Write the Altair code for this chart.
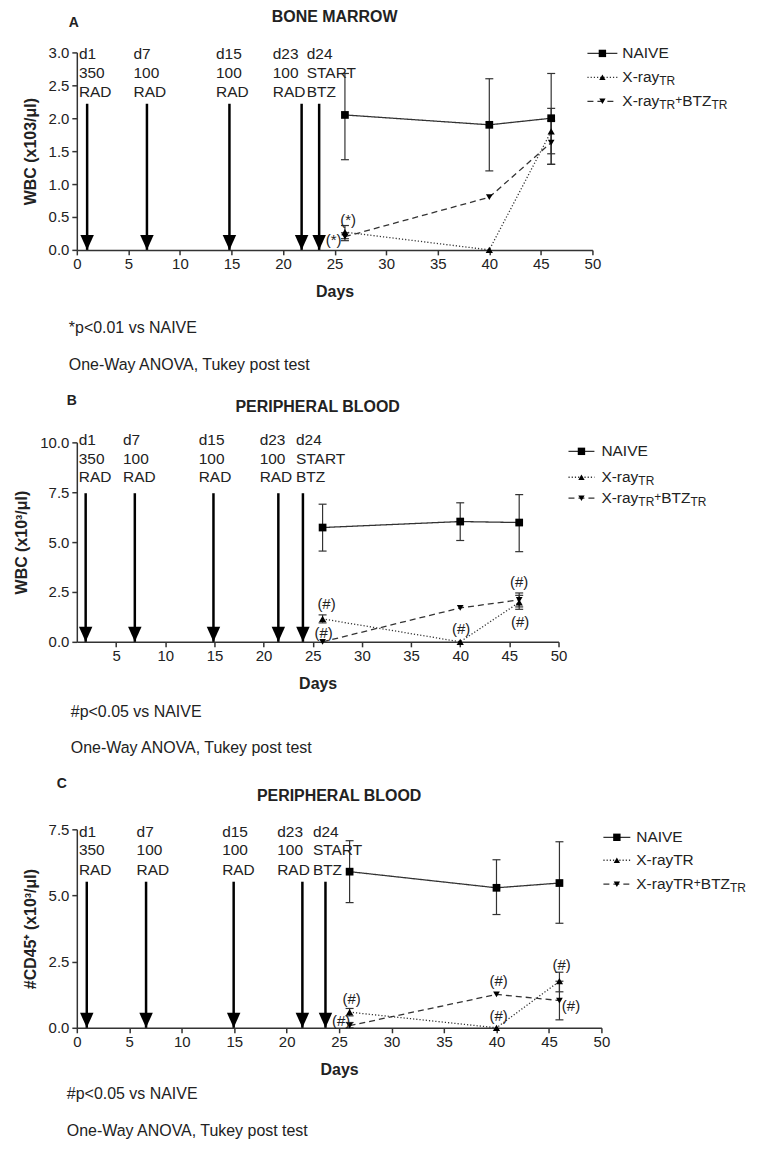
import altair as alt
import pandas as pd

FONT = "Liberation Sans"
INK = "#222222"
LINE = "#333333"

SERIES = ["NAIVE", "X-ray", "X-ray+BTZ"]
DAYS = [26, 40, 46]
DOSE_TEXT = [["d1", "350", "RAD"], ["d7", "100", "RAD"], ["d15", "100", "RAD"],
             ["d23", "100", "RAD"], ["d24", "START", "BTZ"]]

# ---------------- Panel A : bone marrow ----------------
A_NAIVE = [2.05, 1.90, 2.00]
A_NAIVE_LO = [1.37, 1.20, 1.30]
A_NAIVE_HI = [2.68, 2.60, 2.68]
A_XRAY = [0.27, 0.00, 1.80]
A_XRAY_LO = [0.17, 0.00, 1.46]
A_XRAY_HI = [0.37, 0.00, 2.15]
A_BTZ = [0.20, 0.80, 1.63]
A_BTZ_LO = [0.14, 0.80, 1.30]
A_BTZ_HI = [0.26, 0.80, 1.96]
A_ARROW_DAY = [1.0, 6.8, 14.8, 21.8, 23.5]
A_TEXT_DAY = [0.2, 5.5, 13.5, 19.0, 22.3]
A_TEXT_Y = [2.97, 2.69, 2.40]
A_ARROW_TOP = 2.22
A_SIG_DAY = [26.3, 24.9]
A_SIG_Y = [0.45, 0.15]
A_SIG = ["(*)", "(*)"]
A_X_TICKS = [0, 5, 10, 15, 20, 25, 30, 35, 40, 45, 50]
A_Y_TICKS = [0.0, 0.5, 1.0, 1.5, 2.0, 2.5, 3.0]

# ---------------- Panel B : peripheral blood WBC ----------------
B_NAIVE = [5.73, 6.03, 5.98]
B_NAIVE_LO = [4.55, 5.08, 4.52]
B_NAIVE_HI = [6.90, 6.97, 7.38]
B_XRAY = [1.15, 0.00, 1.98]
B_XRAY_LO = [0.95, 0.00, 1.63]
B_XRAY_HI = [1.35, 0.00, 2.33]
B_BTZ = [0.00, 1.70, 2.10]
B_BTZ_LO = [0.00, 1.70, 1.75]
B_BTZ_HI = [0.00, 1.70, 2.45]
B_ARROW_DAY = [1.9, 6.9, 14.9, 21.5, 24.0]
B_TEXT_DAY = [1.2, 5.7, 13.4, 19.6, 23.3]
B_TEXT_Y = [10.13, 9.18, 8.27]
B_ARROW_TOP = 7.45
B_SIG_DAY = [26.4, 26.1, 40.1, 46.0, 46.1]
B_SIG_Y = [1.88, 0.43, 0.65, 3.0, 1.0]
B_SIG = ["(#)", "(#)", "(#)", "(#)", "(#)"]
B_X_TICKS = [5, 10, 15, 20, 25, 30, 35, 40, 45, 50]
B_Y_TICKS = [0.0, 2.5, 5.0, 7.5, 10.0]

# ---------------- Panel C : peripheral blood CD45+ ----------------
C_NAIVE = [5.90, 5.29, 5.47]
C_NAIVE_LO = [4.73, 4.28, 3.95]
C_NAIVE_HI = [7.07, 6.35, 7.03]
C_XRAY = [0.59, 0.00, 1.76]
C_XRAY_LO = [0.45, 0.00, 1.36]
C_XRAY_HI = [0.73, 0.00, 2.10]
C_BTZ = [0.08, 1.26, 1.03]
C_BTZ_LO = [0.00, 1.26, 0.30]
C_BTZ_HI = [0.20, 1.26, 1.76]
C_ARROW_DAY = [0.95, 6.6, 14.95, 21.5, 23.7]
C_TEXT_DAY = [0.2, 5.7, 13.85, 19.1, 22.5]
C_TEXT_Y = [7.4, 6.7, 5.95]
C_ARROW_TOP = 5.52
C_SIG_DAY = [26.2, 25.2, 40.2, 40.2, 46.2, 47.1]
C_SIG_Y = [1.07, 0.24, 1.76, 0.43, 2.39, 0.84]
C_SIG = ["(#)", "(#)", "(#)", "(#)", "(#)", "(#)"]
C_X_TICKS = [0, 5, 10, 15, 20, 25, 30, 35, 40, 45, 50]
C_Y_TICKS = [0.0, 2.5, 5.0, 7.5]

ARIAL = {'X': .667, '-': .333, 'r': .333, 'a': .556, 'y': .5, 'T': .611, 'R': .722,
         '+': .584, 'B': .667, 'Z': .611, 'N': .722, 'A': .667, 'I': .278, 'V': .667,
         'E': .667}

DASH = {"NAIVE": [1, 0], "X-ray": [1.2, 2], "X-ray+BTZ": [6, 4]}
SHAPE = {"NAIVE": "square", "X-ray": "triangle-up", "X-ray+BTZ": "triangle-down"}
SIZE = {"NAIVE": 60, "X-ray": 45, "X-ray+BTZ": 45}
ARROW_HEAD = "M-0.9,-1L0.9,-1L0,1Z"
ONE = pd.DataFrame({"k": [0]})


def tw(s, size):
    return sum(ARIAL.get(c, 0.556) for c in s) * size


def text_at(txt, x, y, size=15.5, weight="normal", align="left", dy=0):
    return alt.Chart(ONE).mark_text(
        text=txt, align=align, baseline="middle", fontSize=size,
        fontWeight=weight, color=INK, dy=dy, font=FONT
    ).encode(x=alt.value(x), y=alt.value(y))


def build_panel(c):
    w, h = c["w"], c["h"]
    xs = alt.Scale(domain=c["xdom"], nice=False, zero=False)
    ys = alt.Scale(domain=c["ydom"], nice=False, zero=False)
    common = dict(titleFontSize=16, titleFontWeight="bold", titleColor=INK,
                  labelFontSize=15, labelColor=INK, tickSize=5, tickColor=LINE,
                  tickWidth=1.5, domainColor=LINE, domainWidth=1.5, grid=False,
                  labelFlush=False, labelOverlap=False, labelFont=FONT, titleFont=FONT)
    xax = alt.Axis(values=c["xticks"], format="d", title="Days", titlePadding=12,
                   labelPadding=2, **common)
    yax = alt.Axis(values=c["yticks"], format=".1f", title=c["ytitle"],
                   titlePadding=10, labelPadding=3, **common)

    def X(f):
        return alt.X(f, type="quantitative", scale=xs, axis=xax)

    def Y(f):
        return alt.Y(f, type="quantitative", scale=ys, axis=yax)

    rows = []
    for s, v, lo, hi in zip(SERIES, c["vals"], c["los"], c["his"]):
        for d, a, l, u in zip(DAYS, v, lo, hi):
            rows.append(dict(series=s, day=d, v=a, lo=l, hi=u))
    df = pd.DataFrame(rows)
    err = df[df["hi"] > df["lo"]]
    caps = pd.concat([err.assign(c=err["lo"]), err.assign(c=err["hi"])])

    dash_scale = alt.Scale(domain=SERIES, range=[DASH[s] for s in SERIES])
    shape_scale = alt.Scale(domain=SERIES, range=[SHAPE[s] for s in SERIES])
    size_scale = alt.Scale(domain=SERIES, range=[SIZE[s] for s in SERIES])

    lines = alt.Chart(df).mark_line(color=LINE, strokeWidth=1.3).encode(
        x=X("day"), y=Y("v"),
        strokeDash=alt.StrokeDash("series:N", scale=dash_scale, legend=None))
    bars = alt.Chart(err).mark_rule(color=LINE, strokeWidth=1.2).encode(
        x=X("day"), y=Y("lo"), y2=alt.Y2("hi"))
    capm = alt.Chart(caps).mark_point(shape="stroke", size=64, strokeWidth=1.2,
                                      color=LINE, opacity=1).encode(x=X("day"), y=Y("c"))
    pts = alt.Chart(df).mark_point(filled=True, color="black", opacity=1).encode(
        x=X("day"), y=Y("v"),
        shape=alt.Shape("series:N", scale=shape_scale, legend=None),
        size=alt.Size("series:N", scale=size_scale, legend=None))

    adf = pd.DataFrame({"day": c["arrow_day"], "top": [c["arrow_top"]] * len(c["arrow_day"]),
                        "zero": [0.0] * len(c["arrow_day"])})
    shafts = alt.Chart(adf).mark_rule(color="black", strokeWidth=2.5).encode(
        x=X("day"), y=Y("top"), y2=alt.Y2("zero"))
    heads = alt.Chart(adf).mark_point(shape=ARROW_HEAD, filled=True, color="black",
                                      size=225, yOffset=-7.5, opacity=1).encode(
        x=X("day"), y=Y("zero"))

    trows = []
    for lx, lines_txt in zip(c["text_day"], DOSE_TEXT):
        for ly, t in zip(c["text_y"], lines_txt):
            trows.append(dict(x=lx, y=ly, t=t))
    dose = alt.Chart(pd.DataFrame(trows)).mark_text(
        align="left", baseline="middle", fontSize=15.5, color=INK, font=FONT).encode(
        x=X("x"), y=Y("y"), text="t:N")

    sdf = pd.DataFrame({"x": c["sig_day"], "y": c["sig_y"], "t": c["sig"]})
    sig = alt.Chart(sdf).mark_text(align="center", baseline="middle", fontSize=15,
                                   color=INK, font=FONT).encode(
        x=X("x"), y=Y("y"), text="t:N")

    layers = [lines, bars, capm, pts, shafts, heads, dose, sig]

    # legend (drawn by hand so the subscripts can be kept)
    lx0, lx1, ltx = c["leg_line"][0], c["leg_line"][1], c["leg_text"]
    for s, ry, segs in zip(SERIES, c["leg_rows"], c["leg_labels"]):
        layers.append(alt.Chart(ONE).mark_rule(color=LINE, strokeWidth=1.3,
                                               strokeDash=DASH[s]).encode(
            x=alt.value(lx0), x2=alt.value(lx1), y=alt.value(ry)))
        layers.append(alt.Chart(ONE).mark_point(shape=SHAPE[s], size=SIZE[s] - 5,
                                                filled=True, color="black", opacity=1).encode(
            x=alt.value((lx0 + lx1) / 2), y=alt.value(ry)))
        px = ltx
        for txt, sz, dy in segs:
            layers.append(text_at(txt, px, ry, size=sz, dy=dy))
            px += tw(txt, sz)

    layers.append(text_at(c["letter"], c["letter_x"], c["letter_y"], size=14, weight="bold",
                          align="center"))
    layers.append(text_at(c["title"], w / 2, c["title_y"], size=16, weight="bold",
                          align="center"))
    for t, fy in zip(c["foot"], c["foot_y"]):
        layers.append(text_at(t, c["foot_x"], h + fy, size=16))

    return alt.layer(*layers).properties(width=w, height=h)


LEG_AB = [[("NAIVE", 15.5, 0)],
          [("X-ray", 15.5, 0), ("TR", 12, 4)],
          [("X-ray", 15.5, 0), ("TR", 12, 4), ("+", 12, -1), ("BTZ", 15.5, 0), ("TR", 12, 4)]]
LEG_C = [[("NAIVE", 15.5, 0)],
         [("X-rayTR", 15.5, 0)],
         [("X-rayTR", 15.5, 0), ("+", 12, -1), ("BTZ", 15.5, 0), ("TR", 12, 4)]]

panel_a = build_panel(dict(
    w=517, h=198, xdom=[0, 50], ydom=[0, 3], xticks=A_X_TICKS, yticks=A_Y_TICKS,
    ytitle="WBC (x103/μl)",
    vals=[A_NAIVE, A_XRAY, A_BTZ], los=[A_NAIVE_LO, A_XRAY_LO, A_BTZ_LO],
    his=[A_NAIVE_HI, A_XRAY_HI, A_BTZ_HI],
    arrow_day=A_ARROW_DAY, arrow_top=A_ARROW_TOP, text_day=A_TEXT_DAY, text_y=A_TEXT_Y,
    sig_day=A_SIG_DAY, sig_y=A_SIG_Y, sig=A_SIG,
    leg_line=[512, 542], leg_text=547, leg_rows=[1, 25, 49], leg_labels=LEG_AB,
    letter="A", letter_x=-3, letter_y=-29, title="BONE MARROW", title_y=-35,
    foot=["*p<0.01 vs NAIVE", "One-Way ANOVA, Tukey post test"], foot_x=-8,
    foot_y=[78, 115]))

panel_b = build_panel(dict(
    w=483, h=200, xdom=[1, 50], ydom=[0, 10], xticks=B_X_TICKS, yticks=B_Y_TICKS,
    ytitle="WBC (x10³/μl)",
    vals=[B_NAIVE, B_XRAY, B_BTZ], los=[B_NAIVE_LO, B_XRAY_LO, B_BTZ_LO],
    his=[B_NAIVE_HI, B_XRAY_HI, B_BTZ_HI],
    arrow_day=B_ARROW_DAY, arrow_top=B_ARROW_TOP, text_day=B_TEXT_DAY, text_y=B_TEXT_Y,
    sig_day=B_SIG_DAY, sig_y=B_SIG_Y, sig=B_SIG,
    leg_line=[493, 519], leg_text=526, leg_rows=[9, 35, 56], leg_labels=LEG_AB,
    letter="B", letter_x=-5, letter_y=-41, title="PERIPHERAL BLOOD", title_y=-35,
    foot=["#p<0.05 vs NAIVE", "One-Way ANOVA, Tukey post test"], foot_x=-6,
    foot_y=[70, 106]))

panel_c = build_panel(dict(
    w=526, h=199, xdom=[0, 50], ydom=[0, 7.5], xticks=C_X_TICKS, yticks=C_Y_TICKS,
    ytitle="#CD45⁺ (x10³/μl)",
    vals=[C_NAIVE, C_XRAY, C_BTZ], los=[C_NAIVE_LO, C_XRAY_LO, C_BTZ_LO],
    his=[C_NAIVE_HI, C_XRAY_HI, C_BTZ_HI],
    arrow_day=C_ARROW_DAY, arrow_top=C_ARROW_TOP, text_day=C_TEXT_DAY, text_y=C_TEXT_Y,
    sig_day=C_SIG_DAY, sig_y=C_SIG_Y, sig=C_SIG,
    leg_line=[528, 555], leg_text=561, leg_rows=[8, 31, 55], leg_labels=LEG_C,
    letter="C", letter_x=-15, letter_y=-45, title="PERIPHERAL BLOOD", title_y=-33,
    foot=["#p<0.05 vs NAIVE", "One-Way ANOVA, Tukey post test"], foot_x=-10,
    foot_y=[66, 104]))

chart = alt.vconcat(panel_a, panel_b, panel_c, spacing=22).properties(
    padding={"left": 5, "top": 0, "right": 5, "bottom": 5}
).configure(font=FONT).configure_view(stroke=None)

chart.save("out.html", embed_options={"renderer": "svg", "actions": False})
